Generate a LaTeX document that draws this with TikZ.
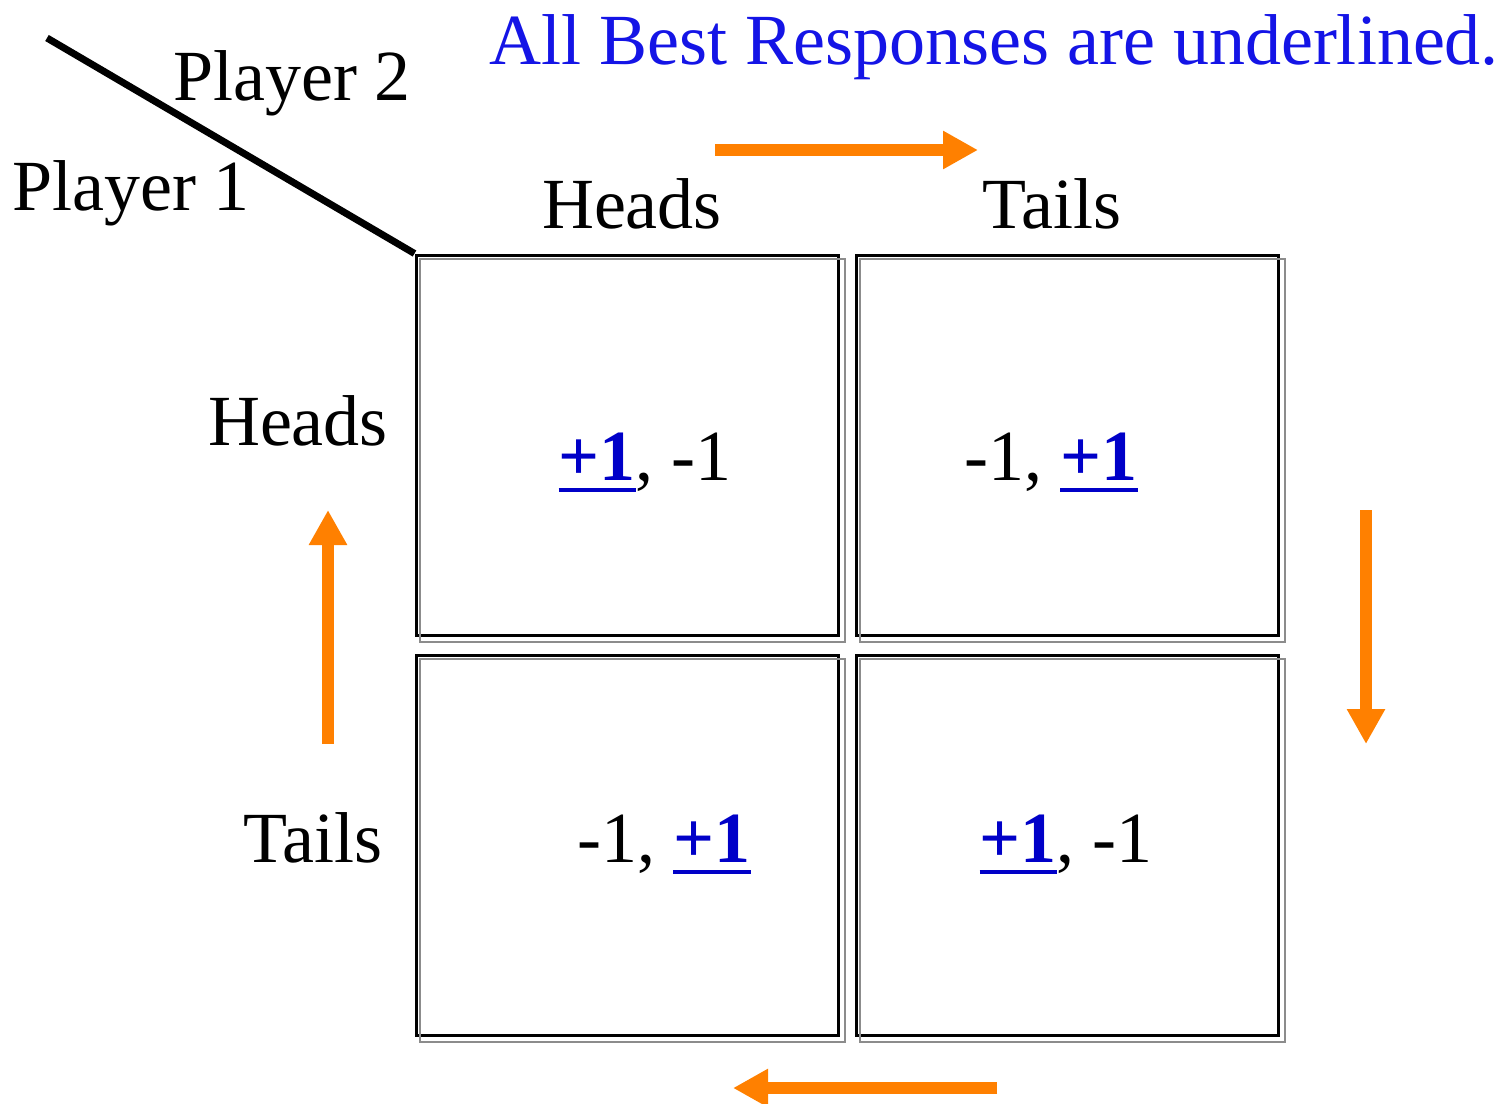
\documentclass[tikz,border=0pt]{standalone}
\usepackage{fontspec}
\setmainfont{Liberation Serif}
\usetikzlibrary{arrows.meta}
\definecolor{titleblue}{RGB}{20,20,230}
\definecolor{payblue}{RGB}{0,0,200}
\definecolor{flow}{RGB}{255,128,0}
% best response: bold blue with a heavy underline
\newcommand\bestresp[1]{\setbox0\hbox{\textcolor{payblue}{\bfseries #1}}%
  \rlap{\textcolor{payblue}{\raisebox{-12pt}{\rule{\wd0}{4pt}}}}\box0}
\tikzset{
  big/.style={font=\fontsize{72}{86}\selectfont, inner sep=0pt},
  cell/.style={draw=black, line width=3pt, minimum width=422pt, minimum height=380pt, inner sep=0pt},
  cellshadow/.style={draw=black!45, line width=2pt},
  flowarrow/.style={draw=flow, line width=12pt, -{Triangle[length=35pt,width=36pt]}},
}
\begin{document}
\begin{tikzpicture}[x=1pt,y=-1pt]
\useasboundingbox (0,0) rectangle (1503,1103);

% payoff cells
\node[cell] (hh) at (627,445) {};
\node[cell] (ht) at (1067,445) {};
\node[cell] (th) at (627,845) {};
\node[cell] (tt) at (1067,845) {};
\foreach \c in {hh,ht,th,tt}
  \draw[cellshadow] ([shift={(5,5)}]\c.north west) rectangle ([shift={(5,5)}]\c.south east);

% corner divider
\coordinate (corner) at (47,38);
\draw[line width=7pt] (corner) -- (hh.north west);

% headings
\node[big, anchor=base, text=titleblue] (title) at (994,64) {All Best Responses are underlined.};
\node[big, anchor=base] (p2) at (292,100) {Player 2};
\node[big, anchor=base] (p1) at (131,210) {Player 1};
\node[big, anchor=base] (colH) at (632,228) {Heads};
\node[big, anchor=base] (colT) at (1052,228) {Tails};
\node[big, anchor=base] (rowH) at (298,445) {Heads};
\node[big, anchor=base] (rowT) at (313,862) {Tails};

% payoffs
\node[big, anchor=base] (phh) at (645,480) {\bestresp{+1}, -1};
\node[big, anchor=base] (pht) at (1051,480) {-1, \bestresp{+1}};
\node[big, anchor=base] (pth) at (664,862) {-1, \bestresp{+1}};
\node[big, anchor=base] (ptt) at (1066,862) {\bestresp{+1}, -1};

% best-response cycle
\coordinate (a1s) at (715,150);  \coordinate (a1e) at (978,150);
\coordinate (a2s) at (1366,510); \coordinate (a2e) at (1366,744);
\coordinate (a3s) at (997,1088); \coordinate (a3e) at (733,1088);
\coordinate (a4s) at (328,744);  \coordinate (a4e) at (328,510);
\draw[flowarrow] (a1s) -- (a1e);
\draw[flowarrow] (a2s) -- (a2e);
\draw[flowarrow] (a3s) -- (a3e);
\draw[flowarrow] (a4s) -- (a4e);
\end{tikzpicture}
\end{document}
